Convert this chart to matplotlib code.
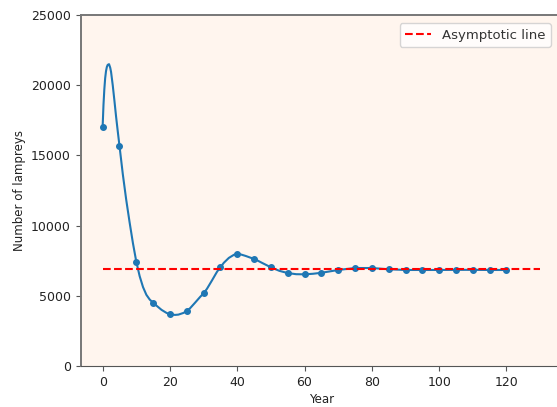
import numpy as np
import matplotlib.pyplot as plt

# sampled population (markers every 5 years)
years = [0, 5, 10, 15, 20, 25, 30, 35, 40, 45, 50, 55, 60,
         65, 70, 75, 80, 85, 90, 95, 100, 105, 110, 115, 120]
lampreys = [17050, 15690, 7430, 4510, 3680, 3920, 5180, 7030, 7975, 7640,
            7030, 6620, 6530, 6640, 6840, 6980, 6980, 6890, 6840, 6840,
            6840, 6850, 6850, 6840, 6840]

# smooth model curve
curve_years = [0, 0.25, 0.5, 0.75, 1, 1.25, 1.5, 1.9, 2.25, 2.5, 3, 3.5, 4, 4.5, 5,
               6, 7, 8, 9, 10, 11, 12, 13, 14, 15, 16, 17.5, 19, 20, 21.5,
               22.5, 24, 25, 26, 27.5, 29, 30, 31, 32.5, 34, 35, 36, 37.5,
               39, 40, 41, 42.5, 44, 45, 47.5, 50, 52.5, 55, 57.5, 60, 62.5,
               65, 67.5, 70, 75, 80, 85, 90, 95, 100, 105, 110, 115, 120]
curve_vals = [17050, 18600, 19700, 20500, 21000, 21300, 21450, 21500, 21250,
              20950, 20000, 18900, 17750, 16700, 15690,
              13650, 11850, 10250, 8750, 7430, 6400, 5620, 5070, 4730, 4510,
              4300, 4000, 3780, 3680, 3640, 3660, 3780, 3920, 4120, 4520,
              4930, 5180, 5500, 6100, 6720, 7030, 7350, 7700, 7920, 7975,
              7950, 7840, 7710, 7640, 7330, 7030, 6780, 6620, 6540, 6530,
              6570, 6640, 6740, 6840, 6980, 6980, 6890, 6840, 6840, 6840,
              6850, 6850, 6840, 6840]

asym_x = [0, 130]
asym_y = [6930, 6930]

fig = plt.figure(figsize=(5.57, 4.07), dpi=100)
# axes runs slightly past the right edge of the figure, like the reference crop
ax = fig.add_axes([0.145, 0.1007, 0.864, 0.8624])
ax.set_facecolor('seashell')

ax.plot(curve_years, curve_vals, color='tab:blue', lw=1.5)
ax.plot(years, lampreys, 'o', color='tab:blue', ms=4)
ax.plot(asym_x, asym_y, 'r--', lw=1.5, label='Asymptotic line')

ax.set_xlim(-6.5, 136.5)
ax.set_ylim(0, 25000)
ax.set_xticks([0, 20, 40, 60, 80, 100, 120])
ax.set_yticks([0, 5000, 10000, 15000, 20000, 25000])
ax.tick_params(labelsize=9, color='#555555', labelcolor='#222222')
for s in ['top', 'left']:
    ax.spines[s].set_color('#777777')
    ax.spines[s].set_linewidth(1.4)
ax.spines['bottom'].set_color('#555555')
ax.spines['right'].set_visible(False)

ax.set_xlabel('Year', fontsize=8.5, labelpad=3, color='#222222')
ax.set_ylabel('Number of lampreys', fontsize=8.5, color='#222222')
leg = ax.legend(loc='upper right', fontsize=9.5, bbox_to_anchor=(0.99, 0.995))
for t in leg.get_texts():
    t.set_color('#333333')

fig.savefig('out.png')
